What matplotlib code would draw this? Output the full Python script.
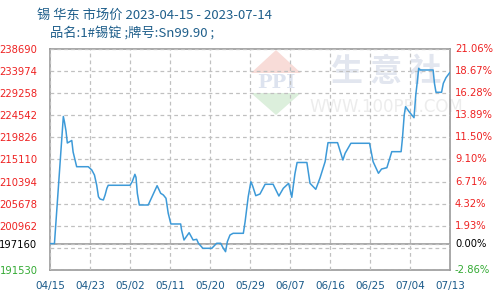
import numpy as np
import matplotlib
matplotlib.use("Agg")
import matplotlib.pyplot as plt
import matplotlib.transforms as mtransforms
from matplotlib.patches import Polygon

plt.rcParams['font.family'] = ['Noto Sans CJK SC', 'DejaVu Sans']

# price series: day offset from 2023-04-15 and price (yuan/ton)
days = [0, 1.0, 3.0, 3.26, 3.6, 3.9, 4.9, 5.2, 6.0, 8.6, 9.4, 10.0, 10.5, 10.9, 11.25, 12.0,
        12.4, 12.8, 13.1, 18.0, 18.5, 19.1, 19.35, 19.65, 20.1, 22.1, 24.1, 24.9, 25.5, 26.1,
        26.6, 27.2, 29.4, 29.6, 30.15, 31.3, 32.2, 33.0, 33.4, 34.4, 36.4, 37.5, 38.4, 39.0,
        39.5, 39.9, 40.5, 41.2, 43.5, 43.9, 44.6, 45.2, 45.6, 46.3, 47.25, 48.4, 50.2, 51.5,
        52.5, 53.7, 54.4, 55.1, 55.6, 57.8, 58.5, 59.8, 60.75, 61.9, 62.55, 64.7, 65.9, 66.4,
        67.7, 71.9, 72.7, 73.9, 74.6, 75.8, 76.9, 79.0, 79.3, 79.7, 80.0, 80.8, 81.9, 82.3,
        82.6, 82.96, 83.25, 86.2, 86.5, 86.85, 88.1, 88.5, 89.1, 90]
prices = [197160, 197160, 224290, 223110, 221190, 218630, 219170, 216710, 213570, 213570,
          212870, 211800, 209670, 207170, 206680, 206470, 207540, 208970, 209610, 209610,
          210370, 211950, 211310, 207900, 205400, 205400, 209520, 207900, 207540, 206830,
          203630, 201350, 201350, 200070, 197930, 199490, 197930, 198080, 197230, 196160,
          196160, 197230, 197230, 196160, 195440, 197570, 199000, 199360, 199360, 201840,
          207170, 210370, 209460, 207390, 207750, 209820, 209820, 207320, 208970, 210030,
          207040, 212020, 214470, 214470, 210030, 208750, 211160, 214640, 218700, 218700,
          215000, 216430, 218570, 218570, 214640, 212170, 213080, 213360, 216780, 216780,
          219640, 224610, 226380, 225310, 224030, 228880, 231370, 234570, 234210, 234210,
          231370, 229450, 229450, 231370, 232570, 233720]

base = 197160
y_min, y_max = 191530, 238690
y_grid = np.linspace(y_min, y_max, 11)
left_ticks = [238690, 233974, 229258, 224542, 219826, 215110, 210394, 205678, 200962, 197160, 191530]
right_labels = ['21.06%', '18.67%', '16.28%', '13.89%', '11.50%', '9.10%', '6.71%', '4.32%',
                '1.93%', '0.00%', '-2.86%']
x_labels = ['04/15', '04/23', '05/02', '05/11', '05/20', '05/29', '06/07', '06/16', '06/25',
            '07/04', '07/13']
x_ticks = np.arange(0, 91, 9)

fig = plt.figure(figsize=(5, 3), dpi=100)

red = '#ee2222'
green = '#33aa33'
blue_txt = '#1a5a8a'


def tick_color(v):
    if v == base:
        return 'black'
    return green if v == y_min else red


# watermark (drawn first, under the axes)
fig.patches.append(Polygon([[251, 300 - 73], [276, 300 - 50], [301, 300 - 73]], closed=True,
                           facecolor='#f8dcd8', edgecolor='none', transform=None, zorder=-1))
fig.patches.append(Polygon([[251, 300 - 93], [276, 300 - 115], [301, 300 - 93]], closed=True,
                           facecolor='#dcefdc', edgecolor='none', transform=None, zorder=-1))
fig.text(276 / 500, 1 - 83 / 300, 'PPI', ha='center', va='center', fontsize=14,
         family='DejaVu Serif', fontweight='bold', color='#dde3ef', zorder=-1)
fig.text(386 / 500, 1 - 72 / 300, '生 意 社', ha='center', va='center', fontsize=23,
         color='#e2e6ef', fontweight='bold', zorder=-1)
fig.text(386 / 500, 1 - 107 / 300, 'WWW.100PPI.COM', ha='center', va='center', fontsize=12,
         family='DejaVu Sans', color='#ececec', zorder=-1)

ax = fig.add_axes([0.1, 0.1, 0.8, 0.7367])
ax.set_facecolor('none')
ax.set_zorder(1)

# dashed grid: major ticks plus the extra level that has no label
ax.set_yticks(y_grid, minor=True)
grid_style = dict(color='#c0c0c0', lw=0.9, ls=(0, (3, 2.5)), zorder=2)
ax.grid(True, which='major', axis='both', **grid_style)
ax.grid(True, which='minor', axis='y', **grid_style)
ax.set_axisbelow(False)

ax.axhline(base, color='#999999', lw=1.2, zorder=2.4)
ax.plot(days, prices, color='#3d9ad8', lw=1.1, zorder=3)

ax.set_xlim(0, 90)
ax.set_ylim(y_min, y_max)
for s in ax.spines.values():
    s.set_color('#999999')
    s.set_linewidth(1.2)

ax.set_xticks(x_ticks)
ax.set_xticklabels(x_labels, color=blue_txt, fontsize=7.5, family='DejaVu Sans')
ax.set_yticks(left_ticks)
ax.set_yticklabels([str(v) for v in left_ticks], fontsize=7.2, family='DejaVu Sans')
ax.tick_params(which='both', length=0, pad=9)
ax.tick_params(axis='x', pad=8)
for lab, v in zip(ax.get_yticklabels(), left_ticks):
    lab.set_color(tick_color(v))

# right-hand percentage labels
trans = mtransforms.blended_transform_factory(ax.transAxes, ax.transData)
for v, lab in zip(left_ticks, right_labels):
    ax.text(1.0 + 5 / 400, v, lab, transform=trans, ha='left', va='center', fontsize=7.2,
            family='DejaVu Sans', color=tick_color(v), clip_on=False)

fig.text(37 / 500, 1 - 15 / 300, '锡 华东 市场价 2023-04-15 - 2023-07-14', fontsize=9.5,
         color='#1f5f8b', va='center', ha='left')
fig.text(50 / 500, 1 - 33 / 300, '品名:1#锡锭 ;牌号:Sn99.90 ;', fontsize=9.5,
         color='#1f5f8b', va='center', ha='left')

fig.savefig('out.png', dpi=100)
